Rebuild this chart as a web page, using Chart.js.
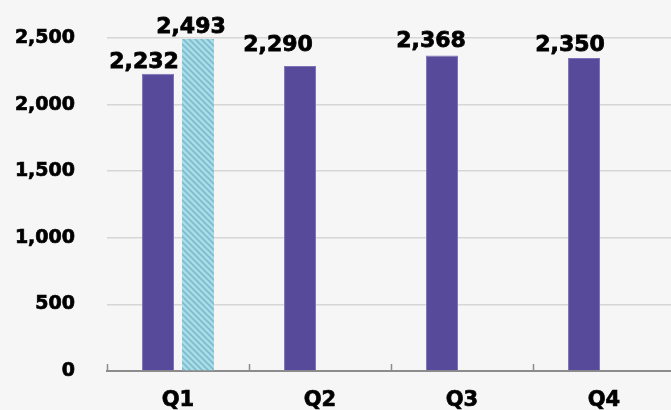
<!DOCTYPE html>
<html>
<head>
<meta charset="utf-8">
<script src="https://cdn.jsdelivr.net/npm/chart.js@4/dist/chart.umd.min.js"></script>
<style>
  html, body { margin: 0; padding: 0; background: #f6f6f6; overflow: hidden; }
  #wrap { width: 675px; height: 410px; }
</style>
</head>
<body>
<div id="wrap"><canvas id="chart" width="675" height="410"></canvas></div>
<script>
const quarters = ['Q1', 'Q2', 'Q3', 'Q4'];
const actualValues = [2232, 2290, 2368, 2350];
const forecastValues = [2493, null, null, null];
const yTicks = [0, 500, 1000, 1500, 2000, 2500];

const FONT = "'DejaVu Sans', Verdana, sans-serif";

// the value labels in the original were dragged by hand, so each one gets a small nudge
const labelNudge = [
  [[-14, -6], [-22, -15], [-11, -9], [-14, -7]],
  [[-7, -6]],
];

function makeHatch() {
  const tile = document.createElement('canvas');
  tile.width = 6;
  tile.height = 6;
  const c = tile.getContext('2d');
  c.fillStyle = '#a9dde8';
  c.fillRect(0, 0, 6, 6);
  c.strokeStyle = '#7fbccb';
  c.lineWidth = 1.6;
  c.beginPath();
  c.moveTo(-1, -1); c.lineTo(7, 7);
  c.moveTo(-4, 2); c.lineTo(4, 10);
  c.moveTo(2, -4); c.lineTo(10, 4);
  c.stroke();
  return document.getElementById('chart').getContext('2d').createPattern(tile, 'repeat');
}

const valueLabels = {
  id: 'valueLabels',
  afterDatasetsDraw(chart) {
    const ctx = chart.ctx;
    ctx.save();
    ctx.font = `bold 22px ${FONT}`;
    ctx.fillStyle = '#000';
    ctx.strokeStyle = '#000';
    ctx.lineWidth = 0.8;
    ctx.textAlign = 'center';
    ctx.textBaseline = 'alphabetic';
    chart.data.datasets.forEach((ds, i) => {
      chart.getDatasetMeta(i).data.forEach((bar, j) => {
        const v = ds.data[j];
        if (v == null) return;
        const [dx, dy] = (labelNudge[i] && labelNudge[i][j]) || [0, -6];
        const txt = v.toLocaleString('en-US');
        ctx.fillText(txt, bar.x + dx, bar.y + dy);
        ctx.strokeText(txt, bar.x + dx, bar.y + dy);
      });
    });
    ctx.restore();
  },
};

// small tick marks pointing up from the x axis at category boundaries
const innerTicks = {
  id: 'innerTicks',
  afterDraw(chart) {
    const x = chart.scales.x;
    const ctx = chart.ctx;
    const step = (x.right - x.left) / quarters.length;
    ctx.save();
    ctx.strokeStyle = '#8c8c8c';
    ctx.lineWidth = 1.5;
    ctx.beginPath();
    for (let i = 0; i <= quarters.length; i++) {
      const px = Math.round(x.left + step * i) + 0.5;
      ctx.moveTo(px, x.top);
      ctx.lineTo(px, x.top - 7);
    }
    ctx.stroke();
    ctx.restore();
  },
};

new Chart(document.getElementById('chart'), {
  type: 'bar',
  data: {
    labels: quarters,
    datasets: [
      {
        label: 'Actual',
        data: actualValues,
        backgroundColor: '#574a9a',
        borderColor: '#7d73b9',
        borderWidth: 1,
        categoryPercentage: 0.563,
        barPercentage: 0.8,
      },
      {
        label: 'Forecast',
        data: forecastValues,
        backgroundColor: makeHatch(),
        borderWidth: 0,
        categoryPercentage: 0.563,
        barPercentage: 0.8,
      },
    ],
  },
  options: {
    responsive: false,
    animation: false,
    devicePixelRatio: 1,
    layout: { padding: { top: 38, left: 0, right: 0, bottom: 0 } },
    plugins: { legend: { display: false }, tooltip: { enabled: false } },
    scales: {
      x: {
        grid: { display: false, drawTicks: false },
        border: { display: true, color: '#8c8c8c', width: 2 },
        ticks: {
          color: '#000',
          font: { family: FONT, size: 21, weight: 'bold' },
          padding: 17,
          textStrokeColor: '#000',
          textStrokeWidth: 0.7,
        },
        afterFit(scale) { scale.height = 39; },
      },
      y: {
        min: 0,
        max: 2500,
        afterBuildTicks(scale) { scale.ticks = yTicks.map((v) => ({ value: v })); },
        grid: { color: '#d6d6d6', lineWidth: 1.5, drawTicks: false },
        border: { display: false },
        ticks: {
          color: '#000',
          font: { family: FONT, size: 19, weight: 'bold' },
          padding: 32,
          textStrokeColor: '#000',
          textStrokeWidth: 0.7,
          callback: (v) => v.toLocaleString('en-US'),
        },
        afterFit(scale) {
          scale.width = 107;
          // the tick padding is horizontal here, keep it out of the top/bottom overhang
          scale.paddingTop = 12;
          scale.paddingBottom = 12;
        },
      },
    },
  },
  plugins: [valueLabels, innerTicks],
});
</script>
</body>
</html>
